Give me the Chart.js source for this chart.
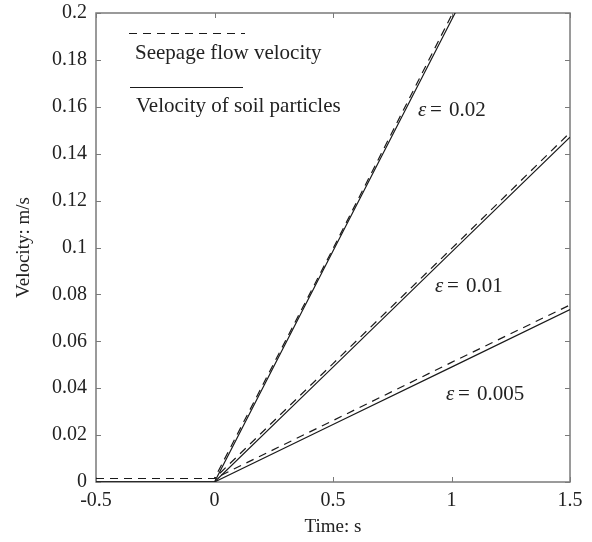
<!DOCTYPE html>
<html>
<head>
<meta charset="utf-8">
<script src="https://cdn.jsdelivr.net/npm/chart.js@4.4.0/dist/chart.umd.min.js"></script>
<style>
  html, body { margin: 0; padding: 0; background: #fff; }
  #chart { display: block; }
</style>
</head>
<body>
<canvas id="chart" width="592" height="542"></canvas>
<script>
// time points (s)
const times = [-0.5, 0, 0.5, 1.0, 1.5];

// seepage flow velocity (dashed), m/s
const seepage002 = [0.0015, 0.0015, 0.0995, 0.199, 0.2985];
const seepage001 = [0.0015, 0.0015, 0.0505, 0.0995, 0.149];
const seepage0005 = [0.0015, 0.0015, 0.0262, 0.051, 0.0755];

// velocity of soil particles (solid), m/s
const soil002 = [0, 0, 0.0985, 0.197, 0.2955];
const soil001 = [0, 0, 0.049, 0.098, 0.147];
const soil0005 = [0, 0, 0.0245, 0.049, 0.0735];

const xTicks = [-0.5, 0, 0.5, 1, 1.5];
const yTicks = [0, 0.02, 0.04, 0.06, 0.08, 0.1, 0.12, 0.14, 0.16, 0.18, 0.2];

const legendLabels = ['Seepage flow velocity', 'Velocity of soil particles'];
const curveLabels = ['0.02', '0.01', '0.005'];

const FONT = 'Liberation Serif';
const LINE = '#1a1a1a';
const AXIS = '#7a7a7a';

function toPoints(ys) {
    return times.map((t, i) => ({ x: t, y: ys[i] }));
}

function makeSet(label, ys, dashed) {
    return {
        label: label,
        data: toPoints(ys),
        borderColor: LINE,
        borderWidth: 1.2,
        borderDash: dashed ? [8, 6] : [],
        pointRadius: 0,
        fill: false,
        tension: 0
    };
}

// frame with inward ticks on all four sides
const framePlugin = {
    id: 'frame',
    beforeDatasetsDraw(chart) {
        const ctx = chart.ctx;
        const a = chart.chartArea;
        const xs = chart.scales.x;
        const ys = chart.scales.y;
        ctx.save();
        ctx.strokeStyle = AXIS;
        ctx.lineWidth = 1.5;
        ctx.strokeRect(a.left, a.top, a.right - a.left, a.bottom - a.top);
        ctx.lineWidth = 1;
        ctx.beginPath();
        xTicks.forEach(v => {
            const px = Math.round(xs.getPixelForValue(v)) + 0.5;
            ctx.moveTo(px, a.bottom); ctx.lineTo(px, a.bottom - 5);
            ctx.moveTo(px, a.top); ctx.lineTo(px, a.top + 5);
        });
        yTicks.forEach(v => {
            const py = Math.round(ys.getPixelForValue(v)) + 0.5;
            ctx.moveTo(a.left, py); ctx.lineTo(a.left + 5, py);
            ctx.moveTo(a.right, py); ctx.lineTo(a.right - 5, py);
        });
        ctx.stroke();
        ctx.restore();
    },
    afterDraw(chart) {
        const ctx = chart.ctx;
        ctx.save();
        // legend
        ctx.strokeStyle = LINE;
        ctx.lineWidth = 1.2;
        ctx.setLineDash([8, 6]);
        ctx.beginPath();
        ctx.moveTo(129, 33.5); ctx.lineTo(245, 33.5);
        ctx.stroke();
        ctx.setLineDash([]);
        ctx.beginPath();
        ctx.moveTo(130, 87.5); ctx.lineTo(243, 87.5);
        ctx.stroke();
        ctx.fillStyle = '#222';
        ctx.textBaseline = 'middle';
        ctx.font = '21px "' + FONT + '"';
        ctx.fillText(legendLabels[0], 135, 53);
        ctx.fillText(legendLabels[1], 136, 106);

        // curve labels
        const spots = [[418, 110], [435, 286], [446, 394]];
        curveLabels.forEach((txt, i) => {
            const [x, y] = spots[i];
            ctx.font = 'italic 21px "' + FONT + '"';
            ctx.fillText('\u03b5', x, y);
            ctx.font = '21px "' + FONT + '"';
            ctx.fillText('=', x + 12, y);
            ctx.fillText(txt, x + 31, y);
        });
        ctx.restore();
    }
};

const chart = new Chart(document.getElementById('chart').getContext('2d'), {
    type: 'line',
    data: {
        datasets: [
            makeSet('seepage 0.02', seepage002, true),
            makeSet('seepage 0.01', seepage001, true),
            makeSet('seepage 0.005', seepage0005, true),
            makeSet('soil 0.02', soil002, false),
            makeSet('soil 0.01', soil001, false),
            makeSet('soil 0.005', soil0005, false)
        ]
    },
    options: {
        responsive: false,
        animation: false,
        layout: { padding: { left: 0, right: 22, top: 13, bottom: 0 } },
        plugins: {
            legend: { display: false },
            tooltip: { enabled: false }
        },
        scales: {
            x: {
                type: 'linear',
                min: -0.5,
                max: 1.5,
                afterBuildTicks: s => { s.ticks = xTicks.map(v => ({ value: v })); },
                afterFit: s => { s.height = 60; s.paddingLeft = 0; s.paddingRight = 0; },
                grid: { display: false, drawTicks: false },
                border: { display: false },
                ticks: {
                    padding: 7,
                    color: '#222',
                    font: { family: FONT, size: 20 },
                    callback: v => String(v)
                },
                title: {
                    display: true,
                    text: 'Time: s',
                    color: '#222',
                    font: { family: FONT, size: 19 },
                    padding: { top: 0, bottom: 4 }
                }
            },
            y: {
                type: 'linear',
                min: 0,
                max: 0.2,
                afterBuildTicks: s => { s.ticks = yTicks.map(v => ({ value: v })); },
                afterFit: s => { s.width = 96; s.paddingTop = 0; s.paddingBottom = 0; },
                grid: { display: false, drawTicks: false },
                border: { display: false },
                ticks: {
                    padding: 9,
                    color: '#222',
                    font: { family: FONT, size: 20 },
                    callback: v => String(Math.round(v * 100) / 100)
                },
                title: {
                    display: true,
                    text: 'Velocity: m/s',
                    color: '#222',
                    font: { family: FONT, size: 19 },
                    padding: { top: 13, bottom: 0 }
                }
            }
        }
    },
    plugins: [framePlugin]
});
</script>
</body>
</html>
